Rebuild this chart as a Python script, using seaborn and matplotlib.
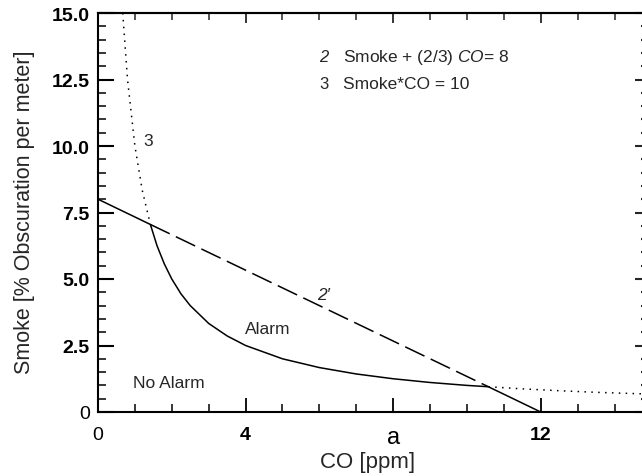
import matplotlib
matplotlib.use("Agg")
import matplotlib.pyplot as plt
import seaborn as sns
import pandas as pd
from matplotlib.ticker import MultipleLocator, FixedLocator, NullFormatter

# ---- data ----
# curve 3: Smoke*CO = 10 (dotted)
co_curve3_left = [0.67, 0.8, 1.0, 1.2, 1.42]
smoke_curve3_left = [15.0, 12.5, 10.0, 8.33, 7.05]
co_curve3_right = [10.58, 11.5, 12.5, 13.5, 14.8]
smoke_curve3_right = [0.95, 0.87, 0.80, 0.74, 0.68]

# line 2: Smoke + (2/3) CO = 8 (dashed middle part)
co_line2 = [1.42, 10.58]
smoke_line2 = [7.05, 0.95]

# alarm boundary (solid)
co_boundary = [0.0, 1.42, 1.6, 1.8, 2.0, 2.25, 2.5, 3.0, 3.5, 4.0, 5.0, 6.0,
               7.0, 8.0, 9.0, 10.0, 10.58, 12.0]
smoke_boundary = [8.0, 7.05, 6.25, 5.56, 5.0, 4.44, 4.0, 3.33, 2.86, 2.5, 2.0,
                  1.67, 1.43, 1.25, 1.11, 1.0, 0.95, 0.0]

x_tick_pos = [0, 4, 8, 12]
x_tick_labels = ["0", "4", "a", "12"]
y_tick_pos = [0, 2.5, 5.0, 7.5, 10.0, 12.5, 15.0]
y_tick_labels = ["0", "2.5", "5.0", "7.5", "10.0", "12.5", "15.0"]

sns.set_style("ticks")
plt.rcParams['font.family'] = ['Liberation Sans', 'DejaVu Sans']
plt.rcParams['mathtext.fontset'] = 'custom'
plt.rcParams['mathtext.it'] = 'Liberation Sans:italic'
plt.rcParams['mathtext.rm'] = 'Liberation Sans'

fig = plt.figure(figsize=(6.42, 4.77), dpi=100)
ax = fig.add_axes([98 / 642, 64 / 477, 1 - 98 / 642 + 0.002, (413 - 14) / 477])

df_b = pd.DataFrame({"co": co_boundary, "smoke": smoke_boundary})
df_l = pd.DataFrame({"co": co_curve3_left, "smoke": smoke_curve3_left})
df_r = pd.DataFrame({"co": co_curve3_right, "smoke": smoke_curve3_right})
df_2 = pd.DataFrame({"co": co_line2, "smoke": smoke_line2})

sns.lineplot(data=df_b, x="co", y="smoke", sort=False, color="black", lw=1.1, ax=ax)
sns.lineplot(data=df_2, x="co", y="smoke", sort=False, color="black", lw=1.1, ax=ax)
ax.lines[-1].set_dashes([14, 4.5])
for d in (df_l, df_r):
    sns.lineplot(data=d, x="co", y="smoke", sort=False, color="black", lw=1.1, ax=ax)
    ax.lines[-1].set_dashes([1, 3.5])

ax.set_xlim(0, 14.78)
ax.set_ylim(0, 15)
ax.xaxis.set_major_locator(FixedLocator(x_tick_pos))
ax.set_xticklabels(x_tick_labels)
ax.xaxis.set_minor_locator(MultipleLocator(1))
ax.yaxis.set_major_locator(FixedLocator(y_tick_pos))
ax.set_yticklabels(y_tick_labels)
ax.yaxis.set_minor_locator(MultipleLocator(0.5))

ax.tick_params(which="both", direction="in", colors="black", labelsize=14)
ax.tick_params(axis="x", which="major", length=10, width=1.3, pad=10)
ax.tick_params(axis="x", which="minor", length=5.5, width=1.1)
ax.tick_params(axis="y", which="major", length=11.5, width=1.5, pad=6)
ax.tick_params(axis="y", which="minor", length=6, width=1.1)
for lab in ax.get_xticklabels() + ax.get_yticklabels():
    t = lab.get_text()
    if t == "a":
        lab.set_fontsize(17)
    elif t != "0":
        lab.set_fontweight("bold")

# top and right tick marks (shorter)
top = ax.secondary_xaxis("top")
top.xaxis.set_major_locator(FixedLocator(x_tick_pos))
top.xaxis.set_minor_locator(MultipleLocator(1))
top.xaxis.set_major_formatter(NullFormatter())
top.tick_params(which="major", direction="in", length=7, width=1.3)
top.tick_params(which="minor", direction="in", length=5, width=1.1)
right = ax.secondary_yaxis("right")
right.yaxis.set_major_locator(FixedLocator(y_tick_pos))
right.yaxis.set_minor_locator(MultipleLocator(0.5))
right.yaxis.set_major_formatter(NullFormatter())
right.tick_params(which="major", direction="in", length=6, width=1.5)
right.tick_params(which="minor", direction="in", length=1.5, width=1.5)

for s in list(ax.spines.values()) + [top.spines["top"], right.spines["right"]]:
    s.set_linewidth(1.5)
    s.set_color("black")

ax.set_xlabel("CO [ppm]", fontsize=16, va="center")
ax.set_ylabel("Smoke [% Obscuration per meter]", fontsize=15.5, va="center")
ax.xaxis.set_label_coords(0.495, -0.125)
ax.yaxis.set_label_coords(-0.134, 0.504)

ax.text(5.99, 13.36, "2", fontsize=12, style="italic", ha="left", va="center")
ax.text(6.64, 13.36, r"Smoke + (2/3) $\mathit{CO}$= 8", fontsize=12.5, ha="left", va="center")
ax.text(5.99, 12.35, "3", fontsize=12, ha="left", va="center")
ax.text(6.64, 12.35, "Smoke*CO = 10", fontsize=12.5, ha="left", va="center")
ax.text(1.36, 10.2, "3", fontsize=12.5, ha="center", va="center")
ax.text(6.12, 4.4, "2\u2032", fontsize=12.5, style="italic", ha="center", va="center")
ax.text(4.6, 3.15, "Alarm", fontsize=12.5, ha="center", va="center")
ax.text(1.93, 1.1, "No Alarm", fontsize=12.5, ha="center", va="center")

fig.savefig("out.png", dpi=100)
